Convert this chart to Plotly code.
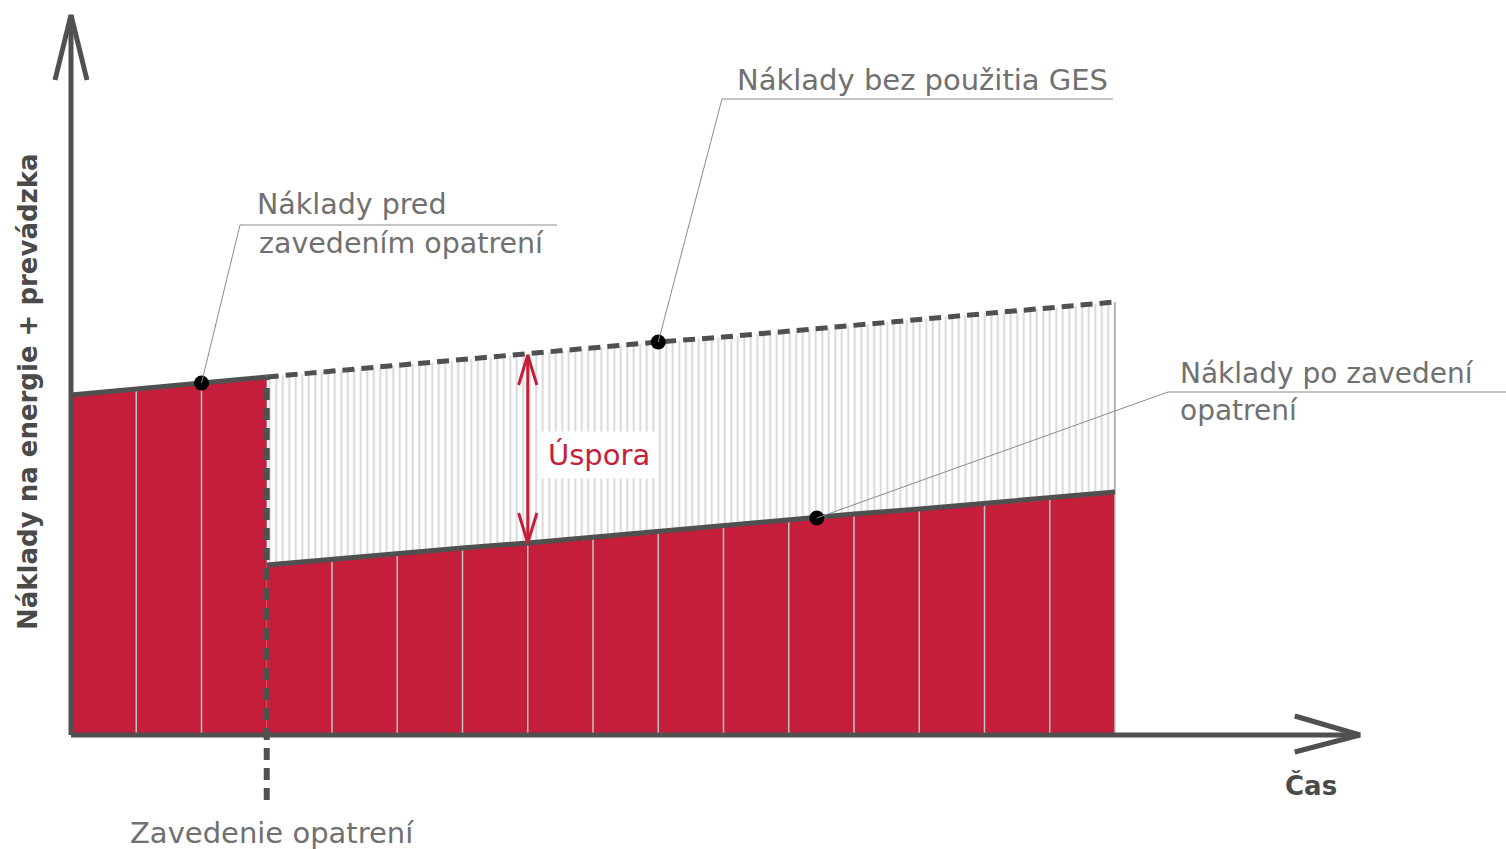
import plotly.graph_objects as go

# ---------------- data (conceptual cost diagram) ----------------
periods_before = [0, 1, 2, 3]
cost_before = [34.0, 34.6, 35.2, 35.8]

periods_after = [3, 4, 5, 6, 7, 8, 9, 10, 11, 12, 13, 14, 15, 16]
cost_after = [17.0, 17.6, 18.1, 18.7, 19.2, 19.8, 20.4, 20.9, 21.5, 22.1, 22.6, 23.2, 23.7, 24.3]
cost_no_ges = [35.8, 36.4, 37.0, 37.5, 38.1, 38.7, 39.3, 39.8, 40.4, 41.0, 41.6, 42.2, 42.7, 43.3]

intervention_period = 3
saving_period = 7
dot_before = (2, 35.2)
dot_no_ges = (9, 39.3)
dot_after = (11.43, 21.7)

label_before = ["Náklady pred", "zavedením opatrení"]
label_no_ges = "Náklady bez použitia GES"
label_after = ["Náklady po zavedení", "opatrení"]
label_saving = "Úspora"
label_intervention = "Zavedenie opatrení"
x_title = "Čas"
y_title = "Náklady na energie + prevádzka"

# ---------------- styling ----------------
W, H = 1506, 849
X0_PX, Y0_PX, PX_PER_T, PX_PER_V = 71, 735, 65.25, 10.0
RED = "#c41e3a"
DARK = "#505050"
LABEL = "#707070"
HATCH = "#b0b0b0"
FONT = "DejaVu Sans"


def t_of(px):
    return (px - X0_PX) / PX_PER_T


def v_of(py):
    return (Y0_PX - py) / PX_PER_V


fig = go.Figure()

# red areas
fig.add_trace(go.Scatter(x=periods_before, y=cost_before, fill="tozeroy", fillcolor=RED,
                         mode="lines", line=dict(width=0), hoverinfo="skip"))
fig.add_trace(go.Scatter(x=periods_after, y=cost_after, fill="tozeroy", fillcolor=RED,
                         mode="lines", line=dict(width=0), hoverinfo="skip"))
# hatched savings area
fig.add_trace(go.Scatter(x=periods_after, y=cost_after, mode="lines", line=dict(width=0),
                         hoverinfo="skip"))
fig.add_trace(go.Scatter(x=periods_after, y=cost_no_ges, mode="lines", line=dict(width=0),
                         fill="tonexty", fillcolor="rgba(255,255,255,0)",
                         fillpattern=dict(shape="|", size=6.5, solidity=0.3, fgcolor=HATCH,
                                          bgcolor="rgba(255,255,255,0)"),
                         hoverinfo="skip"))

# period separators inside red area
sx, sy = [], []
for t, c in zip(periods_before[1:-1], cost_before[1:-1]):
    sx += [t, t, None]
    sy += [0, c, None]
for t, c in zip(periods_after[1:], cost_after[1:]):
    sx += [t, t, None]
    sy += [0, c, None]
fig.add_trace(go.Scatter(x=sx, y=sy, mode="lines", line=dict(color="#c4c4c4", width=1.5),
                         hoverinfo="skip"))
# right edge line of hatch
fig.add_trace(go.Scatter(x=[periods_after[-1], periods_after[-1]], y=[cost_after[-1], cost_no_ges[-1]],
                         mode="lines", line=dict(color="#a8a8a8", width=1.5), hoverinfo="skip"))

# cost lines
fig.add_trace(go.Scatter(x=periods_before, y=cost_before, mode="lines",
                         line=dict(color=DARK, width=5), hoverinfo="skip"))
fig.add_trace(go.Scatter(x=periods_after, y=cost_after, mode="lines",
                         line=dict(color=DARK, width=5), hoverinfo="skip"))
fig.add_trace(go.Scatter(x=periods_after, y=cost_no_ges, mode="lines",
                         line=dict(color=DARK, width=5, dash="12px,7px"), hoverinfo="skip"))

# axes with open arrow heads
y_top = v_of(15)
x_end = t_of(1360)
fig.add_trace(go.Scatter(x=[0, 0, None, -0.245, 0, 0.245], y=[0, y_top, None, y_top - 6.5, y_top, y_top - 6.5],
                         mode="lines", line=dict(color=DARK, width=5), hoverinfo="skip"))
fig.add_trace(go.Scatter(x=[0, x_end, None, x_end - 1.0, x_end, x_end - 1.0], y=[0, 0, None, 1.9, 0, -1.7],
                         mode="lines", line=dict(color=DARK, width=5), hoverinfo="skip"))

# intervention dashed vertical
fig.add_trace(go.Scatter(x=[intervention_period, intervention_period], y=[v_of(800), cost_before[-1]],
                         mode="lines", line=dict(color=DARK, width=6, dash="12px,8px"), hoverinfo="skip"))

# saving arrow
i7 = periods_after.index(saving_period)
top, bot = cost_no_ges[i7] - 0.1, cost_after[i7]
fig.add_trace(go.Scatter(
    x=[saving_period, saving_period, None,
       saving_period - 0.14, saving_period, saving_period + 0.14, None,
       saving_period - 0.14, saving_period, saving_period + 0.14],
    y=[bot, top, None, top - 3.0, top, top - 3.0, None, bot + 3.0, bot, bot + 3.0],
    mode="lines", line=dict(color=RED, width=3), hoverinfo="skip"))

# leader lines
leaders = [(dot_before, (240, 225)), (dot_no_ges, (722, 99)), (dot_after, (1168, 392))]
underlines = [((240, 557), 225), ((722, 1113), 99), ((1168, 1506), 392)]
for (d, (lx, ly)) in leaders:
    fig.add_shape(type="line", x0=d[0], y0=d[1], x1=t_of(lx), y1=v_of(ly),
                  line=dict(color="#8a8a8a", width=1))
for ((a, b), y) in underlines:
    fig.add_shape(type="line", x0=t_of(a), y0=v_of(y), x1=t_of(b), y1=v_of(y),
                  line=dict(color="#8a8a8a", width=1))

# dots
fig.add_trace(go.Scatter(x=[dot_before[0], dot_no_ges[0], dot_after[0]],
                         y=[dot_before[1], dot_no_ges[1], dot_after[1]],
                         mode="markers", marker=dict(color="black", size=15, line=dict(width=0)),
                         hoverinfo="skip"))


def label(text, px, py, size=28, color=LABEL, xanchor="left", bold=False, angle=0, bg=None):
    fig.add_annotation(x=px / W, y=1 - py / H, xref="paper", yref="paper", text=text,
                       showarrow=False, xanchor=xanchor, yanchor="middle", textangle=angle,
                       font=dict(family=FONT, size=size, color=color,
                                 weight="bold" if bold else "normal"),
                       bgcolor=bg, borderpad=6)


label(label_before[0], 250, 205, size=28.5)
label(label_before[1], 252, 243, size=28.5)
label(label_no_ges, 730, 80, size=29)
label(label_after[0], 1173, 373, size=28)
label(label_after[1], 1173, 410, size=28)
label(label_saving, 599, 455, size=29, color=RED, xanchor="center", bg="white")
label(label_intervention, 272, 833, size=29, xanchor="center")
label(x_title, 1311, 785, size=26, color="#4a4a4a", xanchor="center", bold=True)
label(y_title, 28, 392, size=26, color="#4a4a4a", xanchor="center", bold=True, angle=-90)

fig.update_layout(
    width=W, height=H, margin=dict(l=0, r=0, t=0, b=0),
    paper_bgcolor="white", plot_bgcolor="white", showlegend=False,
    xaxis=dict(visible=False, range=[t_of(0), t_of(W)], fixedrange=True),
    yaxis=dict(visible=False, range=[v_of(H), v_of(0)], fixedrange=True),
)

fig.write_html("out.html", config={"displayModeBar": False},
               post_script="document.body.style.margin='0';document.body.style.overflow='hidden';")
